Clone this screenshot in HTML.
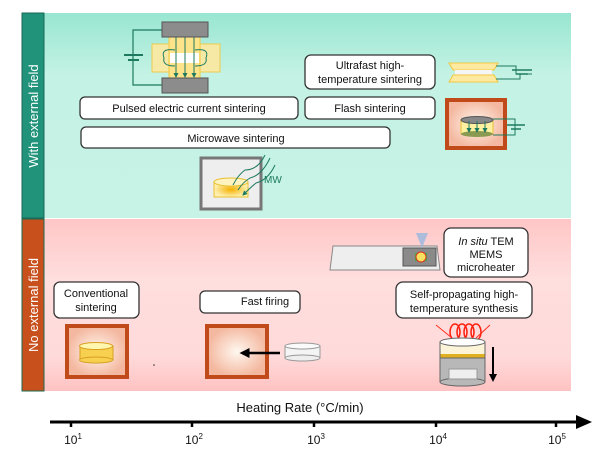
<!DOCTYPE html>
<html><head><meta charset="utf-8"><style>
html,body{margin:0;padding:0;background:#fff;}
svg{display:block;}
text{font-family:"Liberation Sans",sans-serif;fill:#111;}
</style></head><body>
<svg width="600" height="460" viewBox="0 0 600 460" xmlns="http://www.w3.org/2000/svg">
<defs>
<linearGradient id="gt" x1="0" y1="0" x2="0" y2="1"><stop offset="0" stop-color="#98e6d1"/><stop offset="0.3" stop-color="#c4f2e4"/><stop offset="1" stop-color="#c6f3e6"/></linearGradient>
<linearGradient id="gb" x1="0" y1="0" x2="0" y2="1"><stop offset="0" stop-color="#ffc6c6"/><stop offset="0.35" stop-color="#ffdede"/><stop offset="0.8" stop-color="#ffdada"/><stop offset="1" stop-color="#ffc2c2"/></linearGradient>
<radialGradient id="rf"><stop offset="0" stop-color="#fff8f0"/><stop offset="1" stop-color="#f4b8a0"/></radialGradient>
<radialGradient id="yd"><stop offset="0" stop-color="#fff8c0"/><stop offset="1" stop-color="#f2c030"/></radialGradient>
<radialGradient id="mw"><stop offset="0" stop-color="#f4b000"/><stop offset="1" stop-color="#fff0b0"/></radialGradient>
<marker id="ag" markerWidth="5" markerHeight="5" refX="4" refY="2.5" orient="auto"><path d="M0,0 L5,2.5 L0,5z" fill="#1d7a5f"/></marker>
<marker id="ab" markerWidth="4" markerHeight="4" refX="3" refY="2" orient="auto"><path d="M0,0 L4,2 L0,4z" fill="#000"/></marker>
</defs>
<!-- panels -->
<rect x="44" y="13" width="527" height="205" fill="url(#gt)"/>
<rect x="44" y="219" width="527" height="172" fill="url(#gb)"/>
<rect x="22" y="13" width="22" height="205" fill="#20937a" stroke="#176a58"/>
<rect x="22" y="219" width="22" height="172" fill="#c8501c" stroke="#1e6a50"/>
<text transform="translate(38,116) rotate(-90)" text-anchor="middle" font-size="13" style="fill:#fff">With external field</text>
<text transform="translate(38,305) rotate(-90)" text-anchor="middle" font-size="13" style="fill:#fff">No external field</text>

<!-- SPS icon -->
<path d="M162,30 H133 V85 H162" fill="none" stroke="#1d7a5f" stroke-width="1.2"/>
<line x1="124" y1="55" x2="143" y2="55" stroke="#1d7a5f" stroke-width="2"/>
<line x1="128" y1="60" x2="139" y2="60" stroke="#1d7a5f" stroke-width="2"/>
<rect x="152" y="44" width="68" height="28" fill="#fde9a0" stroke="#f3c840" opacity="0.9"/>
<rect x="169" y="37" width="31" height="41" fill="#fde48a" stroke="#f3c840"/>
<rect x="170" y="53" width="29" height="10" fill="#fff"/>
<path d="M175,50 Q160,48 164,58 Q162,66 175,66 M195,50 Q210,48 206,58 Q208,66 195,66" fill="none" stroke="#1d7a5f"/>
<line x1="176" y1="37" x2="176" y2="77" stroke="#1d7a5f" marker-end="url(#ag)"/>
<line x1="185" y1="37" x2="185" y2="77" stroke="#1d7a5f" marker-end="url(#ag)"/>
<line x1="194" y1="37" x2="194" y2="77" stroke="#1d7a5f" marker-end="url(#ag)"/>
<rect x="162" y="22" width="46" height="15" fill="#8c8c8c" stroke="#555"/>
<rect x="162" y="78" width="46" height="15" fill="#8c8c8c" stroke="#555"/>

<!-- boxes -->
<g fill="#fff" stroke="#333" stroke-width="1.3">
<rect x="80" y="97" width="218" height="22" rx="5"/>
<rect x="81" y="127" width="309" height="21" rx="5"/>
<rect x="305" y="55" width="130" height="34" rx="6"/>
<rect x="305" y="97" width="130" height="22" rx="5"/>
<rect x="54" y="282" width="85" height="36" rx="6"/>
<rect x="200" y="291" width="100" height="22" rx="5"/>
<rect x="444" y="228" width="84" height="49" rx="7"/>
<rect x="396" y="282" width="136" height="36" rx="7"/>
</g>
<g font-size="11" text-anchor="middle">
<text x="189" y="112">Pulsed electric current sintering</text>
<text x="236" y="142">Microwave sintering</text>
<text x="370" y="69">Ultrafast high-</text>
<text x="370" y="83">temperature sintering</text>
<text x="370" y="112">Flash sintering</text>
<text x="96" y="297">Conventional</text>
<text x="96" y="311">sintering</text>
<text x="265" y="305">Fast firing</text>
<text x="486" y="245"><tspan font-style="italic">In situ</tspan> TEM</text>
<text x="486" y="258">MEMS</text>
<text x="486" y="271">microheater</text>
<text x="464" y="298">Self-propagating high-</text>
<text x="464" y="312">temperature synthesis</text>
</g>

<!-- UHS icon -->
<path d="M449,63 H498 L494,70 H453z" fill="#fde9a0" stroke="#f3c840"/>
<rect x="455" y="70" width="37" height="5" fill="#f5f5f5"/>
<path d="M453,75 H494 L498,82 H449z" fill="#fde9a0" stroke="#f3c840"/>
<path d="M496,66 H516 V74 H532 M496,79 H520 V74" fill="none" stroke="#1d7a5f"/>
<line x1="512" y1="70" x2="532" y2="70" stroke="#1d7a5f" stroke-width="1.5"/>
<line x1="516" y1="74" x2="528" y2="74" stroke="#1d7a5f" stroke-width="1.5"/>

<!-- Flash icon -->
<rect x="447" y="100" width="58" height="48" fill="url(#rf)" stroke="#c04a1a" stroke-width="4"/>
<rect x="461" y="120" width="32" height="14" fill="#fdf0a0" stroke="#e8c030"/>
<ellipse cx="477" cy="120" rx="16" ry="3.5" fill="#888" stroke="#555"/>
<ellipse cx="477" cy="134" rx="16" ry="3" fill="#8a9a50"/>
<line x1="469" y1="121" x2="469" y2="132" stroke="#1d7a5f" marker-end="url(#ag)"/>
<line x1="477" y1="121" x2="477" y2="132" stroke="#1d7a5f" marker-end="url(#ag)"/>
<line x1="485" y1="121" x2="485" y2="132" stroke="#1d7a5f" marker-end="url(#ag)"/>
<path d="M493,119 H515 V135 H493" fill="none" stroke="#1d7a5f"/>
<line x1="507" y1="125" x2="525" y2="125" stroke="#1d7a5f" stroke-width="1.5"/>
<line x1="511" y1="129" x2="521" y2="129" stroke="#1d7a5f" stroke-width="1.5"/>

<!-- MW icon -->
<rect x="201" y="158" width="60" height="51" fill="#eee" stroke="#777" stroke-width="3"/>
<rect x="214" y="182" width="34" height="15" fill="url(#mw)" stroke="#e8c030"/>
<ellipse cx="231" cy="182" rx="17" ry="4" fill="#fff3c0" stroke="#e8c030"/>
<path d="M265,155 Q258,170 245,170 Q238,175 233,185 M270,158 Q262,175 250,178 Q243,182 238,190 M275,165 Q268,180 256,183 Q250,188 243,195" fill="none" stroke="#1d7a5f" marker-end="url(#ag)"/>
<text x="264" y="183" font-size="10" style="fill:#1d7a5f">MW</text>

<!-- Conventional icon -->
<rect x="67" y="326" width="60" height="51" fill="url(#rf)" stroke="#c04a1a" stroke-width="4"/>
<rect x="80" y="346" width="33" height="14" fill="#f8d050" stroke="#d8a020"/>
<ellipse cx="96" cy="360" rx="16.5" ry="3" fill="#f8d050" stroke="#d8a020"/>
<ellipse cx="96" cy="346" rx="16.5" ry="3.5" fill="#fff6b0" stroke="#d8a020"/>
<circle cx="154" cy="365" r="0.8" fill="#333"/>

<!-- Fast firing -->
<rect x="207" y="326" width="60" height="51" fill="url(#rf)" stroke="#c04a1a" stroke-width="4"/>
<line x1="280" y1="353" x2="242" y2="353" stroke="#000" stroke-width="2.5" marker-end="url(#ab)"/>
<rect x="285" y="346" width="35" height="12" fill="#f4f4f4" stroke="#999"/>
<ellipse cx="302.5" cy="358" rx="17.5" ry="3" fill="#eee" stroke="#999"/>
<ellipse cx="302.5" cy="346" rx="17.5" ry="3" fill="#fafafa" stroke="#999"/>

<!-- MEMS -->
<path d="M333,246 H437 L440,270 H330z" fill="#eee" stroke="#888"/>
<rect x="403" y="248" width="33" height="18" fill="#8a8a8a" stroke="#555"/>
<path d="M416,233 H428 L422,248z" fill="#9ab8e0" opacity="0.8"/>
<rect x="415" y="253" width="12" height="8" fill="#4a4"/>
<circle cx="421" cy="257" r="5" fill="#f6e060" stroke="#e03020"/>

<!-- SHS -->
<line x1="436" y1="325" x2="452" y2="338" stroke="#ff3020"/>
<line x1="490" y1="325" x2="476" y2="338" stroke="#ff3020"/>
<ellipse cx="455" cy="332" rx="5" ry="8" fill="none" stroke="#ff2010" stroke-width="1.5"/>
<ellipse cx="462" cy="332" rx="5" ry="8" fill="none" stroke="#ff2010" stroke-width="1.5"/>
<ellipse cx="469" cy="332" rx="5" ry="8" fill="none" stroke="#ff2010" stroke-width="1.5"/>
<ellipse cx="476" cy="332" rx="5" ry="8" fill="none" stroke="#ff2010" stroke-width="1.5"/>
<rect x="440" y="342" width="45" height="16" fill="#fbf4d8"/>
<rect x="440" y="354" width="45" height="4" fill="#e0b020"/>
<rect x="440" y="358" width="45" height="24" fill="#b8b8b8" stroke="#666"/>
<ellipse cx="462.5" cy="382" rx="22.5" ry="4" fill="#b8b8b8" stroke="#666"/>
<rect x="449" y="369" width="28" height="10" fill="#eee" stroke="#999"/>
<ellipse cx="462.5" cy="342" rx="22.5" ry="4" fill="#fff" stroke="#666"/>
<line x1="440" y1="342" x2="440" y2="382" stroke="#666"/>
<line x1="485" y1="342" x2="485" y2="382" stroke="#666"/>
<line x1="493" y1="347" x2="493" y2="380" stroke="#000" stroke-width="2" marker-end="url(#ab)"/>

<!-- axis -->
<text x="300" y="412" text-anchor="middle" font-size="13">Heating Rate (°C/min)</text>
<line x1="50" y1="422" x2="578" y2="422" stroke="#000" stroke-width="3"/>
<path d="M576,415 L592,422 L576,429z" fill="#000"/>
<g stroke="#000" stroke-width="2.5">
<line x1="71" y1="422" x2="71" y2="427"/><line x1="192" y1="422" x2="192" y2="427"/><line x1="314" y1="422" x2="314" y2="427"/><line x1="436" y1="422" x2="436" y2="427"/><line x1="556" y1="422" x2="556" y2="427"/>
</g>
<g font-size="12" text-anchor="middle">
<text x="73" y="444">10<tspan font-size="8" dy="-5">1</tspan></text>
<text x="194" y="444">10<tspan font-size="8" dy="-5">2</tspan></text>
<text x="316" y="444">10<tspan font-size="8" dy="-5">3</tspan></text>
<text x="438" y="444">10<tspan font-size="8" dy="-5">4</tspan></text>
<text x="557" y="444">10<tspan font-size="8" dy="-5">5</tspan></text>
</g>
</svg>
</body></html>
